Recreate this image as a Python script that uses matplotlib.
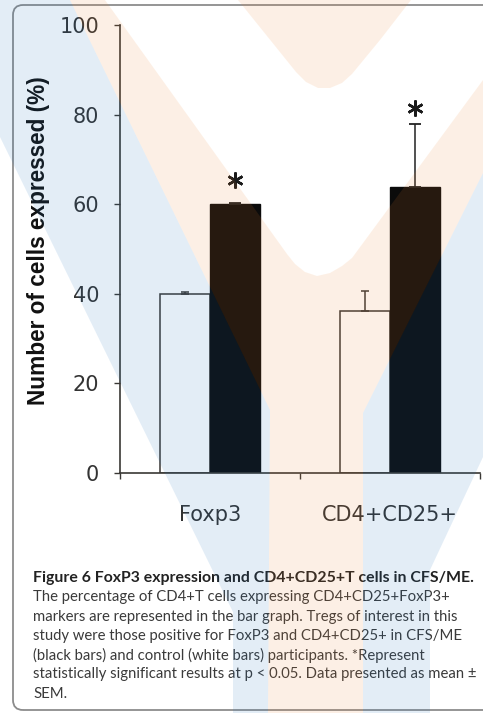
import numpy as np
import matplotlib
matplotlib.use("Agg")
import matplotlib.pyplot as plt
from matplotlib.patches import Polygon, FancyBboxPatch
from matplotlib.transforms import Affine2D

# ---------------- data ----------------
categories = ["Foxp3", "CD4+CD25+"]
control_vals = [40.0, 36.2]      # white bars (control)
control_err = [0.3, 4.5]
cfs_vals = [60.0, 63.9]          # black bars (CFS/ME)
cfs_err = [0.3, 14.0]
star_y = [65.4, 81.5]            # significance asterisks
yticks = [0, 20, 40, 60, 80, 100]
ylabel = "Number of cells expressed (%)"
caption_title = "Figure 6 FoxP3 expression and CD4+CD25+T cells in CFS/ME."
caption_lines = [
    "The percentage of CD4+T cells expressing CD4+CD25+FoxP3+",
    "markers are represented in the bar graph. Tregs of interest in this",
    "study were those positive for FoxP3 and CD4+CD25+ in CFS/ME",
    "(black bars) and control (white bars) participants. *Represent",
    "statistically significant results at p < 0.05. Data presented as mean \u00b1",
    "SEM.",
]

W, H = 483, 713
fig = plt.figure(figsize=(W / 100, H / 100), dpi=100)
fig.patch.set_facecolor("white")
px = Affine2D().scale(1 / W, -1 / H).translate(0, 1) + fig.transFigure

# frame
frame = FancyBboxPatch((13, H - 710), 500, 705, boxstyle="round,pad=0,rounding_size=10",
                       transform=Affine2D().scale(1 / W, 1 / H) + fig.transFigure,
                       facecolor="none", edgecolor="#8c8c8c", lw=1.3)
fig.add_artist(frame)

ax = fig.add_axes([120 / W, 1 - 473 / H, 360 / W, 448 / H])
ax.set_facecolor("none")
x = np.arange(len(categories)) + 0.5
w = 0.28
axis_col = "#3a3835"
ax.bar(x - w / 2, control_vals, w, color="white", edgecolor=axis_col, lw=1.1, zorder=2)
ax.bar(x + w / 2, cfs_vals, w, color="#0b0b0b", edgecolor="#0b0b0b", lw=1.0, zorder=2)
ax.errorbar(x - w / 2, control_vals, yerr=[np.zeros(len(x)), control_err], fmt="none",
            ecolor=axis_col, elinewidth=1.1, capsize=3, capthick=1.1, zorder=3)
ax.errorbar(x + w / 2, cfs_vals, yerr=[np.zeros(len(x)), cfs_err], fmt="none",
            ecolor="#222222", elinewidth=1.1, capsize=4, capthick=1.3, zorder=3)
ax.plot(x + w / 2, star_y, linestyle="none", marker=(6, 2, 0), markersize=11.5,
        markeredgewidth=1.8, color="#1a1a1a", zorder=4)

ax.set_xlim(0, len(categories))
ax.set_ylim(0, 100)
ax.set_yticks(yticks)
ax.set_yticklabels([str(t) for t in yticks])
ax.set_xticks(x)
ax.set_xticklabels(categories)
ax.set_xticks(np.arange(len(categories) + 1), minor=True)
ax.tick_params(axis="x", which="major", length=0, pad=23, labelsize=15, labelcolor="#333333")
ax.tick_params(axis="x", which="minor", length=4, width=1.0, color=axis_col, direction="out")
ax.tick_params(axis="y", length=4, width=1.0, color=axis_col, direction="out",
               pad=11, labelsize=15, labelcolor="#333333")
for lab in ax.get_xticklabels() + ax.get_yticklabels():
    lab.set_fontfamily("DejaVu Sans")
for s in ["top", "right"]:
    ax.spines[s].set_visible(False)
for s in ["left", "bottom"]:
    ax.spines[s].set_color(axis_col)
    ax.spines[s].set_linewidth(1.2)

fig.text(39 / W, 1 - 241 / H, ylabel, rotation=90, ha="center", va="center",
         fontsize=16.3, fontweight="bold", family="Liberation Sans", color="#111111")

# caption
cap_y = [578, 597.5, 616.8, 636, 655.2, 674.4, 693.5]
fig.text(33 / W, 1 - cap_y[0] / H, caption_title, ha="left", va="center",
         fontsize=11.4, fontweight="bold", family="Lato", color="#222222")
for yy, line in zip(cap_y[1:], caption_lines):
    fig.text(33 / W, 1 - yy / H, line, ha="left", va="center",
             fontsize=10.7, family="Lato", color="#3a3a3a")

# faint background logo watermark (drawn as translucent overlay)
orange = (238 / 255, 130 / 255, 47 / 255)
blue = (30 / 255, 114 / 255, 188 / 255)
wm_alpha = 0.12
orange_blob = [(238, 0), (296, 72), (306, 82), (318, 88), (330, 88), (342, 83),
               (352, 74), (380, 40), (411, 0)]
orange_v = [(70, 0), (270, 410), (268, 713), (363, 713), (363, 413), (483, 173),
            (483, 80), (352, 258), (342, 266), (330, 273), (317, 276), (305, 272),
            (295, 264), (287, 254), (105, 0)]
blue_left = [(0, 0), (70, 0), (270, 410), (268, 713), (233, 713), (233, 612), (0, 137)]
blue_right = [(363, 713), (363, 413), (483, 173), (483, 457), (430, 570), (430, 713)]
for poly, col in [(orange_blob, orange), (orange_v, orange), (blue_left, blue), (blue_right, blue)]:
    p = Polygon(poly, closed=True, transform=px, facecolor=col, edgecolor="none",
                alpha=wm_alpha, zorder=20)
    fig.add_artist(p)

fig.savefig("out.png", dpi=100)
